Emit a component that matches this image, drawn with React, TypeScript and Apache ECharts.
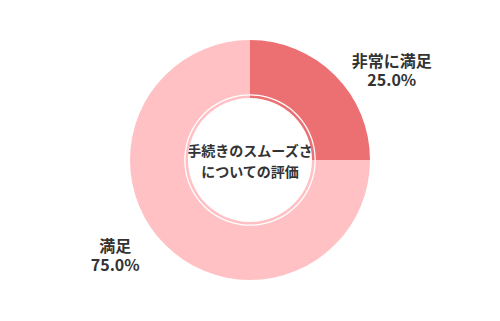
import React, { useEffect, useRef } from "react";
import * as echarts from "echarts";

const categories = ["非常に満足", "満足"];
const values = [25, 75];
const colors = ["#EC6F72", "#FFC1C4"];
const centerTitle = "手続きのスムーズさ\nについての評価";

export default function App() {
  const ref = useRef<HTMLDivElement>(null);
  useEffect(() => {
    document.body.style.margin = "0";
    const chart = echarts.init(ref.current!, null, { renderer: "svg" });
    const font = '"Noto Sans CJK JP", "Noto Sans", sans-serif';
    chart.setOption({
      animation: false,
      backgroundColor: "#ffffff",
      graphic: [
        {
          type: "text",
          left: "center",
          top: "middle",
          style: {
            text: centerTitle,
            font: `bold 14px ${font}`,
            fill: "#333333",
            textAlign: "center",
            lineHeight: 21,
          },
          silent: true,
        },
      ],
      series: [
        {
          type: "pie",
          center: [250, 160],
          radius: [62, 120],
          startAngle: 90,
          clockwise: true,
          label: {
            show: true,
            position: "outside",
            formatter: (p: any) =>
              `{a|${p.name}}\n{a|${Number(p.percent).toFixed(1)}%}`,
            rich: {
              a: {
                width: 84,
                align: "center",
                fontSize: 16,
                fontWeight: "bold",
                fontFamily: font,
                color: "#333333",
                lineHeight: 19,
              },
            },
          },
          labelLayout: (p: any) =>
            p.dataIndex === 0 ? { dx: -6, dy: -1 } : { dx: 7, dy: 0 },
          labelLine: { show: false },
          emphasis: { disabled: true },
          data: categories.map((name, i) => ({
            name,
            value: values[i],
            itemStyle: { color: colors[i] },
            labelLine:
              i === 0 ? { show: false, length: 7, length2: 11 } : { show: false, length: 14, length2: 0 },
          })),
        },
        {
          type: "pie",
          center: [250, 160],
          radius: [64.5, 65.8],
          silent: true,
          label: { show: false },
          labelLine: { show: false },
          emphasis: { disabled: true },
          data: [{ value: 1, name: "ring", itemStyle: { color: "#ffffff" } }],
        },
      ],
    });
    return () => chart.dispose();
  }, []);
  return <div ref={ref} style={{ width: 500, height: 321 }} />;
}
